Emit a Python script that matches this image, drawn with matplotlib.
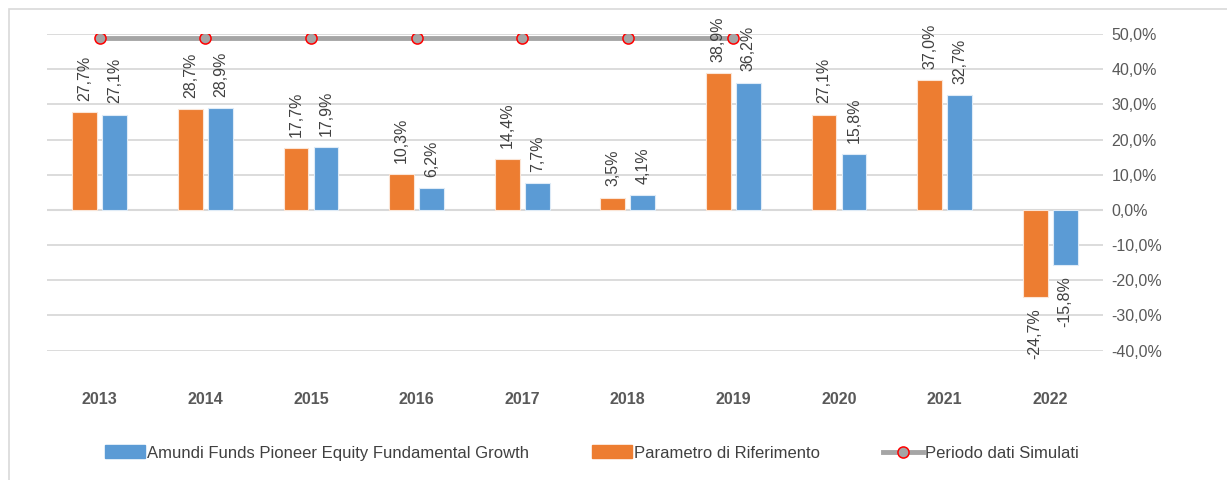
import matplotlib
matplotlib.use("Agg")
import matplotlib.pyplot as plt
from matplotlib.patches import Patch, Rectangle
from matplotlib.lines import Line2D
import numpy as np

years = ["2013", "2014", "2015", "2016", "2017", "2018", "2019", "2020", "2021", "2022"]
benchmark = [27.7, 28.7, 17.7, 10.3, 14.4, 3.5, 38.9, 27.1, 37.0, -24.7]
fund = [27.1, 28.9, 17.9, 6.2, 7.7, 4.1, 36.2, 15.8, 32.7, -15.8]
sim_years = ["2013", "2014", "2015", "2016", "2017", "2018", "2019"]
sim_value = 49.0
yticks = [50, 40, 30, 20, 10, 0, -10, -20, -30, -40]

fund_name = "Amundi Funds Pioneer Equity Fundamental Growth"
bench_name = "Parametro di Riferimento"
sim_name = "Periodo dati Simulati"

ORANGE = "#ED7D31"
BLUE = "#5B9BD5"
GRID = "#D9D9D9"
TXT = "#595959"
LBL = "#404040"

plt.rcParams['font.family'] = ['Liberation Sans', 'DejaVu Sans']

fig = plt.figure(figsize=(12.27, 4.8), dpi=100)
W, H = 1227, 480
ax = fig.add_axes([47 / W, 1 - 350.6 / H, (1103 - 47) / W, (350.6 - 34) / H])

x = np.arange(len(years))
bw = 0.235
off = 0.142
ax.bar(x - off, benchmark, width=bw, color=ORANGE, edgecolor="#FBE5D6", linewidth=0.8, zorder=3)
ax.bar(x + off, fund, width=bw, color=BLUE, edgecolor="#DEEBF7", linewidth=0.8, zorder=3)

xs = [years.index(y) for y in sim_years]
ax.plot(xs, [sim_value] * len(xs), color="#A5A5A5", lw=3.5, marker="o", ms=8,
        mfc="#A5A5A5", mec="#FF0000", mew=1.1, zorder=4, solid_capstyle="butt")

def fmt(v):
    return f"{v:.1f}".replace(".", ",") + "%"

for xs_, vals in ((x - off, benchmark), (x + off, fund)):
    for xi, v in zip(xs_, vals):
        ax.annotate(fmt(v), (xi, v), xytext=(0, 8 if v >= 0 else -8), textcoords="offset points",
                    rotation=90, ha="center", va="bottom" if v >= 0 else "top",
                    fontsize=11.5, color=LBL, zorder=5)

ax.set_xlim(-0.5, len(years) - 0.5)
ax.set_ylim(-40, 50)
ax.set_yticks(yticks)
ax.set_yticklabels([f"{t:.1f}".replace(".", ",") + "%" for t in yticks], fontsize=11.5, color=TXT)
ax.yaxis.tick_right()
ax.tick_params(axis="y", length=0, pad=6)
ax.set_xticks(x)
ax.set_xticklabels(years, fontsize=11.5, fontweight="bold", color=TXT)
ax.tick_params(axis="x", length=0, pad=30)
ax.grid(axis="y", color=GRID, lw=1.3, zorder=0)
ax.set_axisbelow(True)
for s in ax.spines.values():
    s.set_visible(False)
ax.axhline(0, color=GRID, lw=1.5, zorder=2)

fig.patches.append(Rectangle((9 / W, -0.05), 1.1, 1 - 9 / H + 0.05, transform=fig.transFigure,
                             fill=False, edgecolor="#D9D9D9", lw=1.2))

handles = [Patch(facecolor=BLUE, edgecolor=BLUE),
           Patch(facecolor=ORANGE, edgecolor=ORANGE),
           Line2D([0], [0], color="#A5A5A5", lw=3.5, marker="o", ms=8, mfc="#A5A5A5",
                  mec="#FF0000", mew=1.1)]
fig.legend(handles, [fund_name, bench_name, sim_name], loc="center",
           bbox_to_anchor=(592 / W, 1 - 453 / H), ncol=3, frameon=False,
           fontsize=12, labelcolor=LBL, handlelength=2.4, handleheight=0.8,
           handletextpad=0.1, columnspacing=3.8)

fig.savefig("out.png", dpi=100)
